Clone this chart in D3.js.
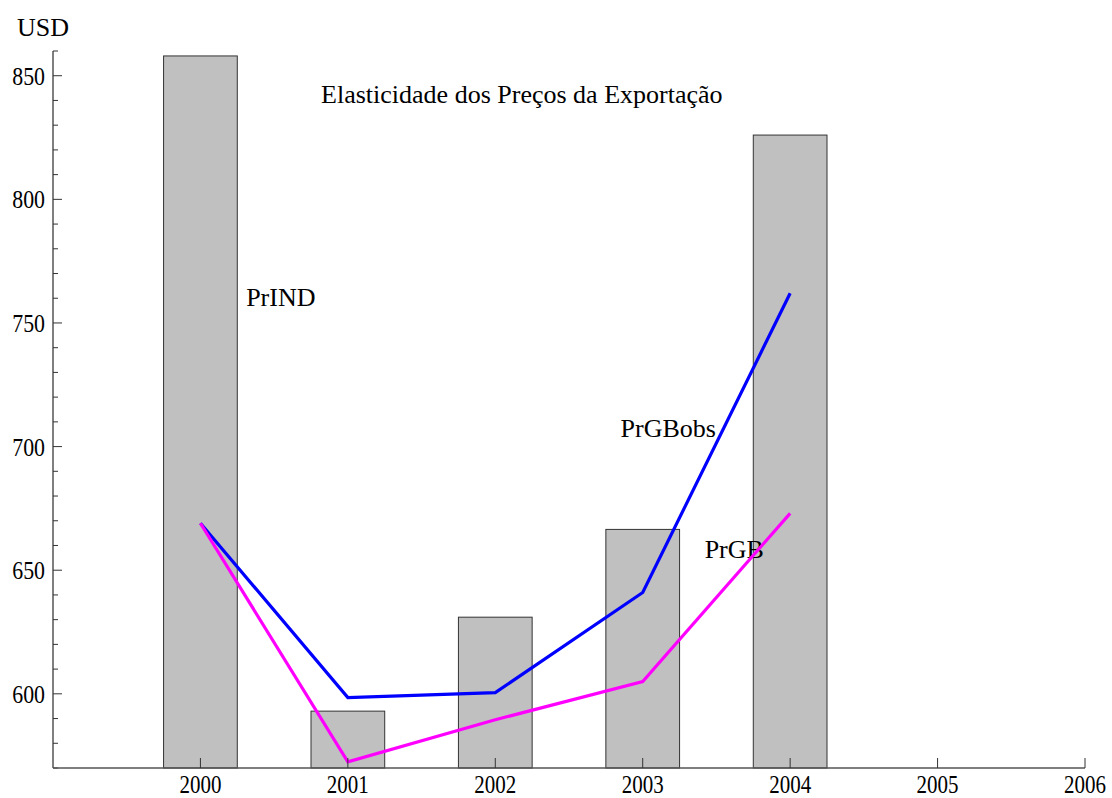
<!DOCTYPE html>
<html><head><meta charset="utf-8">
<script src="https://cdn.jsdelivr.net/npm/d3@7"></script>
<style>body{margin:0;background:#fff}svg text{font-family:"Liberation Serif","Times New Roman",serif;fill:#000}</style>
</head><body>
<svg id="c" width="1112" height="798"></svg>
<script>
const years = [2000, 2001, 2002, 2003, 2004];
const prIND = [858, 593, 631, 666.5, 826];
const prGBobs = [669, 598.5, 600.5, 641, 762];
const prGB = [669, 572.5, 589.5, 605, 673];
const xTicks = [2000, 2001, 2002, 2003, 2004, 2005, 2006];
const yTicks = [600, 650, 700, 750, 800, 850];
const labels = [
  {text: "PrIND", x: 2000.31, y: 757},
  {text: "PrGBobs", x: 2002.85, y: 704},
  {text: "PrGB", x: 2003.42, y: 655}
];
const title = "Elasticidade dos Preços da Exportação";
const yTitle = "USD";

const svg = d3.select("#c");
const x = d3.scaleLinear().domain([1999, 2006]).range([53, 1085]);
const y = d3.scaleLinear().domain([570, 860]).range([768, 51]);
const bw = x(2000.25) - x(1999.75);
const FS = 26, SX = 0.84;

// bars
svg.append("g").selectAll("rect").data(years).join("rect")
  .attr("x", (d) => x(d - 0.25)).attr("width", bw)
  .attr("y", (d, i) => y(prIND[i])).attr("height", (d, i) => y(570) - y(prIND[i]))
  .attr("fill", "#c0c0c0").attr("stroke", "#333").attr("stroke-width", 1);

// labels
svg.append("g").selectAll("text").data(labels).join("text")
  .attr("x", d => x(d.x)).attr("y", d => y(d.y)).attr("font-size", FS).text(d => d.text);

// lines
const line = d3.line().x((d, i) => x(years[i])).y(d => y(d));
svg.append("path").datum(prGBobs).attr("d", line).attr("fill", "none").attr("stroke", "#0000ff").attr("stroke-width", 3.2);
svg.append("path").datum(prGB).attr("d", line).attr("fill", "none").attr("stroke", "#ff00ff").attr("stroke-width", 3.2);

// y axis
const ya = svg.append("g").attr("transform", `translate(${x(1999)},0)`);
ya.append("line").attr("y1", y(570)).attr("y2", y(860)).attr("stroke", "#555").attr("stroke-width", 1.5);
const minor = d3.range(570, 861, 10);
ya.selectAll(".mn").data(minor).join("line")
  .attr("x1", 0).attr("x2", d => yTicks.includes(d) ? 9 : 5)
  .attr("y1", d => y(d)).attr("y2", d => y(d)).attr("stroke", "#333").attr("stroke-width", 1);
ya.selectAll(".tl").data(yTicks).join("text")
  .attr("transform", d => `translate(-8,${y(d)}) scale(${SX},1)`)
  .attr("dy", "0.35em").attr("text-anchor", "end")
  .attr("font-size", FS).text(d => d);
svg.append("text").attr("x", 17).attr("y", 36).attr("font-size", FS).text(yTitle);

// x axis
const xa = svg.append("g").attr("transform", `translate(0,${y(570)})`);
xa.append("line").attr("x1", x(1999)).attr("x2", x(2006)).attr("stroke", "#555").attr("stroke-width", 1.5);
xa.selectAll(".xt").data(xTicks).join("line")
  .attr("x1", d => x(d)).attr("x2", d => x(d)).attr("y1", 0).attr("y2", -10).attr("stroke", "#333");
xa.selectAll(".xl").data(xTicks).join("text")
  .attr("transform", d => `translate(${x(d)},25) scale(${SX},1)`)
  .attr("text-anchor", "middle").attr("font-size", 25).text(d => d);

svg.append("text").attr("x", x(2002.18)).attr("y", y(839)).attr("text-anchor", "middle").attr("font-size", FS).text(title);
</script>
</body></html>
